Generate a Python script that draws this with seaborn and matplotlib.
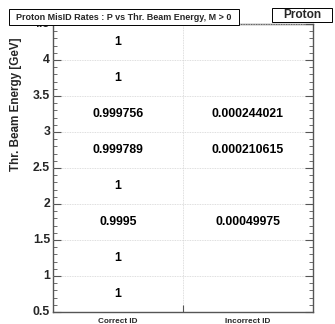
import numpy as np
import pandas as pd
import matplotlib
matplotlib.use("Agg")
import matplotlib.pyplot as plt
from matplotlib.colors import ListedColormap
from matplotlib.patches import Rectangle
from matplotlib.ticker import FixedLocator, MultipleLocator
import seaborn as sns

sns.set_style("white")
plt.rcParams["font.family"] = ["Liberation Sans", "DejaVu Sans"]

# Energy bins (top to bottom) and the ID rates per bin
energy_centers = [4.25, 3.75, 3.25, 2.75, 2.25, 1.75, 1.25, 0.75]
categories = ["Correct ID", "Incorrect ID"]
correct_rate = [1, 1, 0.999756, 0.999789, 1, 0.9995, 1, 1]
incorrect_rate = [0, 0, 0.000244021, 0.000210615, 0, 0.00049975, 0, 0]
y_tick_labels = ["4.5", "4", "3.5", "3", "2.5", "2", "1.5", "1", "0.5"]

df = pd.DataFrame({categories[0]: correct_rate, categories[1]: incorrect_rate},
                  index=energy_centers)
annot = df.map(lambda v: "" if v == 0 else f"{v:g}").values

fig = plt.figure(figsize=(3.35, 3.24), dpi=100)
ax = fig.add_axes([0.158, 0.037, 0.776, 0.889])

sns.heatmap(df, ax=ax, cmap=ListedColormap(["white"]), cbar=False,
            annot=annot, fmt="", linewidths=0,
            annot_kws={"fontsize": 8.8, "fontweight": "bold", "color": "black"})

# Axes frame
for s in ax.spines.values():
    s.set_visible(True)
    s.set_color("#555555")
    s.set_linewidth(1.0)

# Y axis: value ticks on bin edges, minor every 0.1
ax.yaxis.set_major_locator(FixedLocator(np.arange(0, 9)))
ax.set_yticklabels(y_tick_labels, fontsize=8.8, fontweight="bold", rotation=0)
ax.yaxis.set_minor_locator(MultipleLocator(0.2))
ax.tick_params(axis="y", which="major", direction="in", length=6, width=0.8,
               left=True, right=True, color="#555555", pad=2)
ax.tick_params(axis="y", which="minor", direction="in", length=3, width=0.6,
               left=True, right=True, color="#555555")

# X axis: category labels centered, one tick between them
ax.xaxis.set_major_locator(FixedLocator([1]))
ax.xaxis.set_minor_locator(FixedLocator([0.5, 1.5]))
ax.set_xticklabels([""])
ax.set_xticklabels(categories, minor=True, fontsize=5.9, fontweight="bold")
ax.tick_params(axis="x", which="major", direction="in", length=5, width=0.8,
               bottom=True, color="#555555")
ax.tick_params(axis="x", which="minor", length=0, pad=4)

ax.grid(True, which="major", color="#d4d4d4", linestyle=(0, (1, 1)), linewidth=0.6)
ax.set_axisbelow(False)

ax.set_xlabel("")
ax.set_ylabel("Thr. Beam Energy [GeV]", fontsize=8.4, fontweight="bold")
ax.yaxis.set_label_coords(-0.118, 0.72)

# Title box and particle label box
fig.add_artist(Rectangle((0.027, 0.923), 0.687, 0.049, transform=fig.transFigure,
                         facecolor="white", edgecolor="black", linewidth=0.7,
                         zorder=9))
fig.text(0.3705, 0.9475, "Proton MisID Rates : P vs Thr. Beam Energy, M > 0",
         ha="center", va="center", fontsize=6.5, fontweight="bold", zorder=10)
fig.add_artist(Rectangle((0.812, 0.932), 0.180, 0.043, transform=fig.transFigure,
                         facecolor="white", edgecolor="black", linewidth=0.7,
                         zorder=9))
fig.text(0.902, 0.954, "Proton", ha="center", va="center", fontsize=8.6,
         fontweight="bold", zorder=10)

fig.savefig("out.png", dpi=100)
